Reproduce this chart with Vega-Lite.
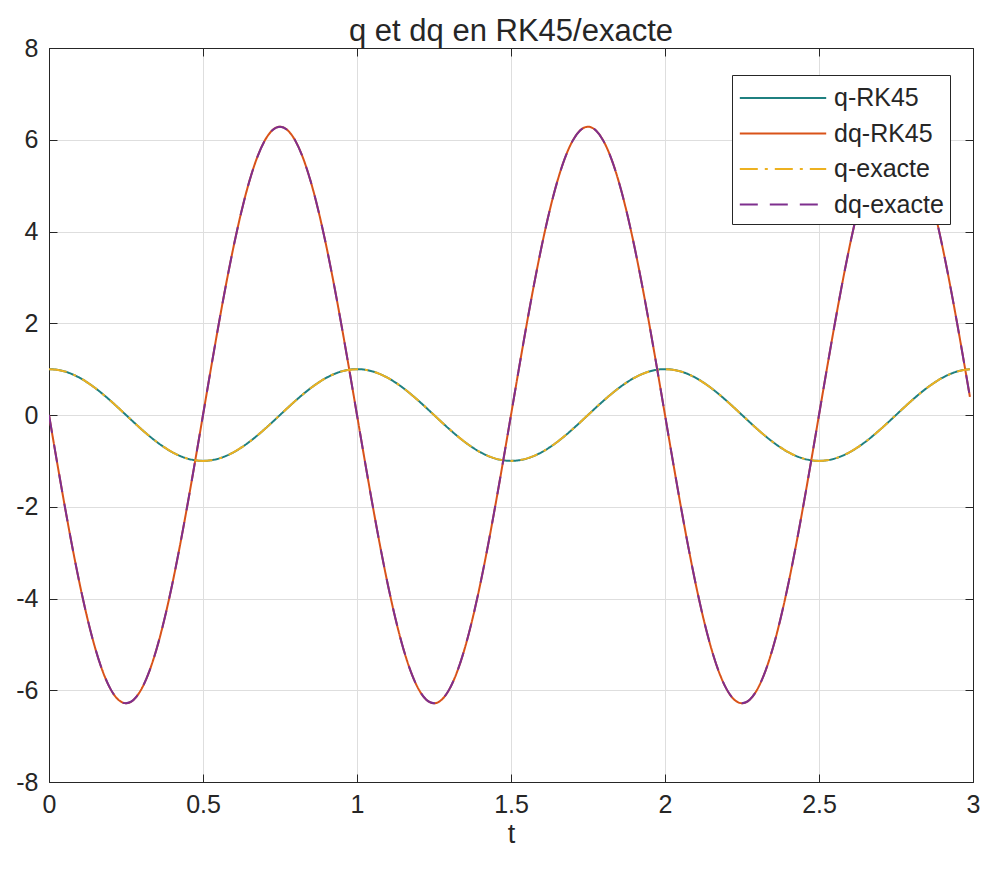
{
  "$schema": "https://vega.github.io/schema/vega-lite/v6.json",
  "width": 924,
  "height": 734,
  "autosize": {"type": "none"},
  "padding": {"left": 49, "top": 48, "right": 11, "bottom": 87},
  "background": "white",
  "title": {"text": "q et dq en RK45/exacte", "font": "Liberation Sans", "fontSize": 31, "fontWeight": "normal", "color": "#262626", "offset": -12},
  "data": {"values": [
    {"t":0,"q-RK45":1,"dq-RK45":0,"q-exacte":1,"dq-exacte":0},
    {"t":0.025,"q-RK45":0.9877,"dq-RK45":-0.9829,"q-exacte":0.9877,"dq-exacte":-0.9829},
    {"t":0.05,"q-RK45":0.9511,"dq-RK45":-1.9416,"q-exacte":0.9511,"dq-exacte":-1.9416},
    {"t":0.075,"q-RK45":0.891,"dq-RK45":-2.8525,"q-exacte":0.891,"dq-exacte":-2.8525},
    {"t":0.1,"q-RK45":0.809,"dq-RK45":-3.6932,"q-exacte":0.809,"dq-exacte":-3.6932},
    {"t":0.125,"q-RK45":0.7071,"dq-RK45":-4.4429,"q-exacte":0.7071,"dq-exacte":-4.4429},
    {"t":0.15,"q-RK45":0.5878,"dq-RK45":-5.0832,"q-exacte":0.5878,"dq-exacte":-5.0832},
    {"t":0.175,"q-RK45":0.454,"dq-RK45":-5.5984,"q-exacte":0.454,"dq-exacte":-5.5984},
    {"t":0.2,"q-RK45":0.309,"dq-RK45":-5.9757,"q-exacte":0.309,"dq-exacte":-5.9757},
    {"t":0.225,"q-RK45":0.1564,"dq-RK45":-6.2058,"q-exacte":0.1564,"dq-exacte":-6.2058},
    {"t":0.25,"q-RK45":0,"dq-RK45":-6.2832,"q-exacte":0,"dq-exacte":-6.2832},
    {"t":0.275,"q-RK45":-0.1564,"dq-RK45":-6.2058,"q-exacte":-0.1564,"dq-exacte":-6.2058},
    {"t":0.3,"q-RK45":-0.309,"dq-RK45":-5.9757,"q-exacte":-0.309,"dq-exacte":-5.9757},
    {"t":0.325,"q-RK45":-0.454,"dq-RK45":-5.5984,"q-exacte":-0.454,"dq-exacte":-5.5984},
    {"t":0.35,"q-RK45":-0.5878,"dq-RK45":-5.0832,"q-exacte":-0.5878,"dq-exacte":-5.0832},
    {"t":0.375,"q-RK45":-0.7071,"dq-RK45":-4.4429,"q-exacte":-0.7071,"dq-exacte":-4.4429},
    {"t":0.4,"q-RK45":-0.809,"dq-RK45":-3.6932,"q-exacte":-0.809,"dq-exacte":-3.6932},
    {"t":0.425,"q-RK45":-0.891,"dq-RK45":-2.8525,"q-exacte":-0.891,"dq-exacte":-2.8525},
    {"t":0.45,"q-RK45":-0.9511,"dq-RK45":-1.9416,"q-exacte":-0.9511,"dq-exacte":-1.9416},
    {"t":0.475,"q-RK45":-0.9877,"dq-RK45":-0.9829,"q-exacte":-0.9877,"dq-exacte":-0.9829},
    {"t":0.5,"q-RK45":-1,"dq-RK45":0,"q-exacte":-1,"dq-exacte":0},
    {"t":0.525,"q-RK45":-0.9877,"dq-RK45":0.9829,"q-exacte":-0.9877,"dq-exacte":0.9829},
    {"t":0.55,"q-RK45":-0.9511,"dq-RK45":1.9416,"q-exacte":-0.9511,"dq-exacte":1.9416},
    {"t":0.575,"q-RK45":-0.891,"dq-RK45":2.8525,"q-exacte":-0.891,"dq-exacte":2.8525},
    {"t":0.6,"q-RK45":-0.809,"dq-RK45":3.6932,"q-exacte":-0.809,"dq-exacte":3.6932},
    {"t":0.625,"q-RK45":-0.7071,"dq-RK45":4.4429,"q-exacte":-0.7071,"dq-exacte":4.4429},
    {"t":0.65,"q-RK45":-0.5878,"dq-RK45":5.0832,"q-exacte":-0.5878,"dq-exacte":5.0832},
    {"t":0.675,"q-RK45":-0.454,"dq-RK45":5.5984,"q-exacte":-0.454,"dq-exacte":5.5984},
    {"t":0.7,"q-RK45":-0.309,"dq-RK45":5.9757,"q-exacte":-0.309,"dq-exacte":5.9757},
    {"t":0.725,"q-RK45":-0.1564,"dq-RK45":6.2058,"q-exacte":-0.1564,"dq-exacte":6.2058},
    {"t":0.75,"q-RK45":0,"dq-RK45":6.2832,"q-exacte":0,"dq-exacte":6.2832},
    {"t":0.775,"q-RK45":0.1564,"dq-RK45":6.2058,"q-exacte":0.1564,"dq-exacte":6.2058},
    {"t":0.8,"q-RK45":0.309,"dq-RK45":5.9757,"q-exacte":0.309,"dq-exacte":5.9757},
    {"t":0.825,"q-RK45":0.454,"dq-RK45":5.5984,"q-exacte":0.454,"dq-exacte":5.5984},
    {"t":0.85,"q-RK45":0.5878,"dq-RK45":5.0832,"q-exacte":0.5878,"dq-exacte":5.0832},
    {"t":0.875,"q-RK45":0.7071,"dq-RK45":4.4429,"q-exacte":0.7071,"dq-exacte":4.4429},
    {"t":0.9,"q-RK45":0.809,"dq-RK45":3.6932,"q-exacte":0.809,"dq-exacte":3.6932},
    {"t":0.925,"q-RK45":0.891,"dq-RK45":2.8525,"q-exacte":0.891,"dq-exacte":2.8525},
    {"t":0.95,"q-RK45":0.9511,"dq-RK45":1.9416,"q-exacte":0.9511,"dq-exacte":1.9416},
    {"t":0.975,"q-RK45":0.9877,"dq-RK45":0.9829,"q-exacte":0.9877,"dq-exacte":0.9829},
    {"t":1,"q-RK45":1,"dq-RK45":0,"q-exacte":1,"dq-exacte":0},
    {"t":1.025,"q-RK45":0.9877,"dq-RK45":-0.9829,"q-exacte":0.9877,"dq-exacte":-0.9829},
    {"t":1.05,"q-RK45":0.9511,"dq-RK45":-1.9416,"q-exacte":0.9511,"dq-exacte":-1.9416},
    {"t":1.075,"q-RK45":0.891,"dq-RK45":-2.8525,"q-exacte":0.891,"dq-exacte":-2.8525},
    {"t":1.1,"q-RK45":0.809,"dq-RK45":-3.6932,"q-exacte":0.809,"dq-exacte":-3.6932},
    {"t":1.125,"q-RK45":0.7071,"dq-RK45":-4.4429,"q-exacte":0.7071,"dq-exacte":-4.4429},
    {"t":1.15,"q-RK45":0.5878,"dq-RK45":-5.0832,"q-exacte":0.5878,"dq-exacte":-5.0832},
    {"t":1.175,"q-RK45":0.454,"dq-RK45":-5.5984,"q-exacte":0.454,"dq-exacte":-5.5984},
    {"t":1.2,"q-RK45":0.309,"dq-RK45":-5.9757,"q-exacte":0.309,"dq-exacte":-5.9757},
    {"t":1.225,"q-RK45":0.1564,"dq-RK45":-6.2058,"q-exacte":0.1564,"dq-exacte":-6.2058},
    {"t":1.25,"q-RK45":0,"dq-RK45":-6.2832,"q-exacte":0,"dq-exacte":-6.2832},
    {"t":1.275,"q-RK45":-0.1564,"dq-RK45":-6.2058,"q-exacte":-0.1564,"dq-exacte":-6.2058},
    {"t":1.3,"q-RK45":-0.309,"dq-RK45":-5.9757,"q-exacte":-0.309,"dq-exacte":-5.9757},
    {"t":1.325,"q-RK45":-0.454,"dq-RK45":-5.5984,"q-exacte":-0.454,"dq-exacte":-5.5984},
    {"t":1.35,"q-RK45":-0.5878,"dq-RK45":-5.0832,"q-exacte":-0.5878,"dq-exacte":-5.0832},
    {"t":1.375,"q-RK45":-0.7071,"dq-RK45":-4.4429,"q-exacte":-0.7071,"dq-exacte":-4.4429},
    {"t":1.4,"q-RK45":-0.809,"dq-RK45":-3.6932,"q-exacte":-0.809,"dq-exacte":-3.6932},
    {"t":1.425,"q-RK45":-0.891,"dq-RK45":-2.8525,"q-exacte":-0.891,"dq-exacte":-2.8525},
    {"t":1.45,"q-RK45":-0.9511,"dq-RK45":-1.9416,"q-exacte":-0.9511,"dq-exacte":-1.9416},
    {"t":1.475,"q-RK45":-0.9877,"dq-RK45":-0.9829,"q-exacte":-0.9877,"dq-exacte":-0.9829},
    {"t":1.5,"q-RK45":-1,"dq-RK45":0,"q-exacte":-1,"dq-exacte":0},
    {"t":1.525,"q-RK45":-0.9877,"dq-RK45":0.9829,"q-exacte":-0.9877,"dq-exacte":0.9829},
    {"t":1.55,"q-RK45":-0.9511,"dq-RK45":1.9416,"q-exacte":-0.9511,"dq-exacte":1.9416},
    {"t":1.575,"q-RK45":-0.891,"dq-RK45":2.8525,"q-exacte":-0.891,"dq-exacte":2.8525},
    {"t":1.6,"q-RK45":-0.809,"dq-RK45":3.6932,"q-exacte":-0.809,"dq-exacte":3.6932},
    {"t":1.625,"q-RK45":-0.7071,"dq-RK45":4.4429,"q-exacte":-0.7071,"dq-exacte":4.4429},
    {"t":1.65,"q-RK45":-0.5878,"dq-RK45":5.0832,"q-exacte":-0.5878,"dq-exacte":5.0832},
    {"t":1.675,"q-RK45":-0.454,"dq-RK45":5.5984,"q-exacte":-0.454,"dq-exacte":5.5984},
    {"t":1.7,"q-RK45":-0.309,"dq-RK45":5.9757,"q-exacte":-0.309,"dq-exacte":5.9757},
    {"t":1.725,"q-RK45":-0.1564,"dq-RK45":6.2058,"q-exacte":-0.1564,"dq-exacte":6.2058},
    {"t":1.75,"q-RK45":0,"dq-RK45":6.2832,"q-exacte":0,"dq-exacte":6.2832},
    {"t":1.775,"q-RK45":0.1564,"dq-RK45":6.2058,"q-exacte":0.1564,"dq-exacte":6.2058},
    {"t":1.8,"q-RK45":0.309,"dq-RK45":5.9757,"q-exacte":0.309,"dq-exacte":5.9757},
    {"t":1.825,"q-RK45":0.454,"dq-RK45":5.5984,"q-exacte":0.454,"dq-exacte":5.5984},
    {"t":1.85,"q-RK45":0.5878,"dq-RK45":5.0832,"q-exacte":0.5878,"dq-exacte":5.0832},
    {"t":1.875,"q-RK45":0.7071,"dq-RK45":4.4429,"q-exacte":0.7071,"dq-exacte":4.4429},
    {"t":1.9,"q-RK45":0.809,"dq-RK45":3.6932,"q-exacte":0.809,"dq-exacte":3.6932},
    {"t":1.925,"q-RK45":0.891,"dq-RK45":2.8525,"q-exacte":0.891,"dq-exacte":2.8525},
    {"t":1.95,"q-RK45":0.9511,"dq-RK45":1.9416,"q-exacte":0.9511,"dq-exacte":1.9416},
    {"t":1.975,"q-RK45":0.9877,"dq-RK45":0.9829,"q-exacte":0.9877,"dq-exacte":0.9829},
    {"t":2,"q-RK45":1,"dq-RK45":0,"q-exacte":1,"dq-exacte":0},
    {"t":2.025,"q-RK45":0.9877,"dq-RK45":-0.9829,"q-exacte":0.9877,"dq-exacte":-0.9829},
    {"t":2.05,"q-RK45":0.9511,"dq-RK45":-1.9416,"q-exacte":0.9511,"dq-exacte":-1.9416},
    {"t":2.075,"q-RK45":0.891,"dq-RK45":-2.8525,"q-exacte":0.891,"dq-exacte":-2.8525},
    {"t":2.1,"q-RK45":0.809,"dq-RK45":-3.6932,"q-exacte":0.809,"dq-exacte":-3.6932},
    {"t":2.125,"q-RK45":0.7071,"dq-RK45":-4.4429,"q-exacte":0.7071,"dq-exacte":-4.4429},
    {"t":2.15,"q-RK45":0.5878,"dq-RK45":-5.0832,"q-exacte":0.5878,"dq-exacte":-5.0832},
    {"t":2.175,"q-RK45":0.454,"dq-RK45":-5.5984,"q-exacte":0.454,"dq-exacte":-5.5984},
    {"t":2.2,"q-RK45":0.309,"dq-RK45":-5.9757,"q-exacte":0.309,"dq-exacte":-5.9757},
    {"t":2.225,"q-RK45":0.1564,"dq-RK45":-6.2058,"q-exacte":0.1564,"dq-exacte":-6.2058},
    {"t":2.25,"q-RK45":0,"dq-RK45":-6.2832,"q-exacte":0,"dq-exacte":-6.2832},
    {"t":2.275,"q-RK45":-0.1564,"dq-RK45":-6.2058,"q-exacte":-0.1564,"dq-exacte":-6.2058},
    {"t":2.3,"q-RK45":-0.309,"dq-RK45":-5.9757,"q-exacte":-0.309,"dq-exacte":-5.9757},
    {"t":2.325,"q-RK45":-0.454,"dq-RK45":-5.5984,"q-exacte":-0.454,"dq-exacte":-5.5984},
    {"t":2.35,"q-RK45":-0.5878,"dq-RK45":-5.0832,"q-exacte":-0.5878,"dq-exacte":-5.0832},
    {"t":2.375,"q-RK45":-0.7071,"dq-RK45":-4.4429,"q-exacte":-0.7071,"dq-exacte":-4.4429},
    {"t":2.4,"q-RK45":-0.809,"dq-RK45":-3.6932,"q-exacte":-0.809,"dq-exacte":-3.6932},
    {"t":2.425,"q-RK45":-0.891,"dq-RK45":-2.8525,"q-exacte":-0.891,"dq-exacte":-2.8525},
    {"t":2.45,"q-RK45":-0.9511,"dq-RK45":-1.9416,"q-exacte":-0.9511,"dq-exacte":-1.9416},
    {"t":2.475,"q-RK45":-0.9877,"dq-RK45":-0.9829,"q-exacte":-0.9877,"dq-exacte":-0.9829},
    {"t":2.5,"q-RK45":-1,"dq-RK45":0,"q-exacte":-1,"dq-exacte":0},
    {"t":2.525,"q-RK45":-0.9877,"dq-RK45":0.9829,"q-exacte":-0.9877,"dq-exacte":0.9829},
    {"t":2.55,"q-RK45":-0.9511,"dq-RK45":1.9416,"q-exacte":-0.9511,"dq-exacte":1.9416},
    {"t":2.575,"q-RK45":-0.891,"dq-RK45":2.8525,"q-exacte":-0.891,"dq-exacte":2.8525},
    {"t":2.6,"q-RK45":-0.809,"dq-RK45":3.6932,"q-exacte":-0.809,"dq-exacte":3.6932},
    {"t":2.625,"q-RK45":-0.7071,"dq-RK45":4.4429,"q-exacte":-0.7071,"dq-exacte":4.4429},
    {"t":2.65,"q-RK45":-0.5878,"dq-RK45":5.0832,"q-exacte":-0.5878,"dq-exacte":5.0832},
    {"t":2.675,"q-RK45":-0.454,"dq-RK45":5.5984,"q-exacte":-0.454,"dq-exacte":5.5984},
    {"t":2.7,"q-RK45":-0.309,"dq-RK45":5.9757,"q-exacte":-0.309,"dq-exacte":5.9757},
    {"t":2.725,"q-RK45":-0.1564,"dq-RK45":6.2058,"q-exacte":-0.1564,"dq-exacte":6.2058},
    {"t":2.75,"q-RK45":0,"dq-RK45":6.2832,"q-exacte":0,"dq-exacte":6.2832},
    {"t":2.775,"q-RK45":0.1564,"dq-RK45":6.2058,"q-exacte":0.1564,"dq-exacte":6.2058},
    {"t":2.8,"q-RK45":0.309,"dq-RK45":5.9757,"q-exacte":0.309,"dq-exacte":5.9757},
    {"t":2.825,"q-RK45":0.454,"dq-RK45":5.5984,"q-exacte":0.454,"dq-exacte":5.5984},
    {"t":2.85,"q-RK45":0.5878,"dq-RK45":5.0832,"q-exacte":0.5878,"dq-exacte":5.0832},
    {"t":2.875,"q-RK45":0.7071,"dq-RK45":4.4429,"q-exacte":0.7071,"dq-exacte":4.4429},
    {"t":2.9,"q-RK45":0.809,"dq-RK45":3.6932,"q-exacte":0.809,"dq-exacte":3.6932},
    {"t":2.925,"q-RK45":0.891,"dq-RK45":2.8525,"q-exacte":0.891,"dq-exacte":2.8525},
    {"t":2.95,"q-RK45":0.9511,"dq-RK45":1.9416,"q-exacte":0.9511,"dq-exacte":1.9416},
    {"t":2.975,"q-RK45":0.9877,"dq-RK45":0.9829,"q-exacte":0.9877,"dq-exacte":0.9829},
    {"t":2.99,"q-RK45":0.998,"dq-RK45":0.3945,"q-exacte":0.998,"dq-exacte":0.3945}
  ]},
  "transform": [{"fold": ["q-RK45", "dq-RK45", "q-exacte", "dq-exacte"], "as": ["series", "value"]}],
  "encoding": {
    "color": {
      "field": "series", "type": "nominal",
      "scale": {"domain": ["q-RK45", "dq-RK45", "q-exacte", "dq-exacte"], "range": ["#1f8080", "#D95319", "#EDB120", "#7E2F8E"]},
      "legend": {"title": null, "orient": "none", "legendX": 683, "legendY": 27}
    },
    "strokeDash": {
      "field": "series", "type": "nominal",
      "scale": {"domain": ["q-RK45", "dq-RK45", "q-exacte", "dq-exacte"], "range": [[1, 0], [1, 0], [18, 7, 3, 7], [18, 12]]},
      "legend": {"title": null, "orient": "none", "legendX": 683, "legendY": 27}
    }
  },
  "layer": [
    {
      "transform": [{"filter": "datum.series === 'q-RK45'"}],
      "mark": {"type": "line", "strokeWidth": 2, "interpolate": "monotone", "clip": true},
      "encoding": {
        "x": {"field": "t", "type": "quantitative", "scale": {"domain": [0, 3], "nice": false, "zero": false},
          "axis": {"orient": "bottom", "values": [0, 0.5, 1, 1.5, 2, 2.5, 3], "labelExpr": "'' + datum.value", "title": "t", "grid": true, "labelFlush": false, "labelOverlap": false, "tickSize": -8, "labelPadding": 18, "titlePadding": 4}},
        "y": {"field": "value", "type": "quantitative", "scale": {"domain": [-8, 8], "nice": false, "zero": false},
          "axis": {"orient": "left", "values": [-8, -6, -4, -2, 0, 2, 4, 6, 8], "labelExpr": "'' + datum.value", "title": null, "grid": true, "labelFlush": false, "labelOverlap": false, "tickSize": -8, "labelPadding": 19}}
      }
    },
    {
      "transform": [{"filter": "datum.series === 'dq-RK45'"}],
      "mark": {"type": "line", "strokeWidth": 2, "interpolate": "monotone", "clip": true},
      "encoding": {
        "x": {"field": "t", "type": "quantitative", "axis": {"orient": "top", "values": [0, 0.5, 1, 1.5, 2, 2.5, 3], "labels": false, "title": null, "grid": false, "tickSize": -8}},
        "y": {"field": "value", "type": "quantitative", "axis": {"orient": "right", "values": [-8, -6, -4, -2, 0, 2, 4, 6, 8], "labels": false, "title": null, "grid": false, "tickSize": -8}}
      }
    },
    {
      "transform": [{"filter": "datum.series === 'q-exacte'"}],
      "mark": {"type": "line", "strokeWidth": 2, "interpolate": "monotone", "clip": true},
      "encoding": {
        "x": {"field": "t", "type": "quantitative", "axis": null},
        "y": {"field": "value", "type": "quantitative", "axis": null}
      }
    },
    {
      "transform": [{"filter": "datum.series === 'dq-exacte'"}],
      "mark": {"type": "line", "strokeWidth": 2, "interpolate": "monotone", "clip": true},
      "encoding": {
        "x": {"field": "t", "type": "quantitative", "axis": null},
        "y": {"field": "value", "type": "quantitative", "axis": null}
      }
    }
  ],
  "resolve": {"axis": {"x": "independent", "y": "independent"}},
  "config": {
    "view": {"stroke": "#262626", "strokeWidth": 1},
    "axis": {
      "domainColor": "#262626", "domainWidth": 1, "tickColor": "#262626", "tickWidth": 1,
      "gridColor": "#dedede", "gridWidth": 1, "gridOpacity": 1,
      "labelFont": "Liberation Sans", "labelFontSize": 25, "labelColor": "#262626",
      "titleFont": "Liberation Sans", "titleFontSize": 27, "titleFontWeight": "normal", "titleColor": "#262626"
    },
    "legend": {
      "symbolType": "M-2.7,0H2.7", "symbolSize": 1024, "symbolStrokeWidth": 2, "symbolOffset": 28,
      "labelOffset": 34, "labelFont": "Liberation Sans", "labelFontSize": 25, "labelColor": "#262626",
      "padding": 6, "rowPadding": 5.5, "strokeColor": "#262626", "fillColor": "white", "cornerRadius": 0
    }
  }
}
